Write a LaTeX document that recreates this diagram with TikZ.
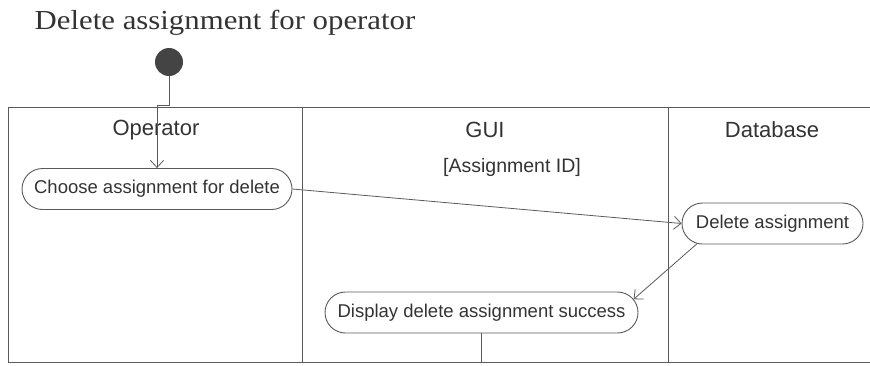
\documentclass[tikz,border=0pt]{standalone}
\usepackage{fontspec}
\setmainfont{Liberation Serif}
\newfontfamily\arialish{Liberation Sans}
\usetikzlibrary{shapes.misc,arrows.meta,calc}
\definecolor{linec}{HTML}{5A5A5A}
\definecolor{textc}{HTML}{333333}
\definecolor{dotc}{HTML}{444444}
\tikzset{
  lane/.style={draw=linec, line width=0.9pt},
  laneHead/.style={font=\arialish\fontsize{22}{24}\selectfont, text=textc, inner sep=0pt},
  guardText/.style={font=\arialish\fontsize{19.5}{22}\selectfont, text=textc, inner sep=0pt},
  actbox/.style={rounded rectangle, draw=linec, line width=0.9pt, minimum height=41pt, inner xsep=0pt,
    font=\arialish\fontsize{18.5}{20}\selectfont, text=textc},
  flow/.style={draw=linec, line width=0.8pt, -{Straight Barb[length=7pt,width=13pt]}},
  plainflow/.style={draw=linec, line width=0.8pt},
  startdot/.style={circle, fill=dotc, minimum size=28pt, inner sep=0pt},
  titletext/.style={font=\fontsize{27.5}{30}\selectfont, text=textc, inner sep=0pt}
}
\begin{document}
\begin{tikzpicture}[x=1pt,y=-1pt]
\useasboundingbox (0,0) rectangle (870,365);
% title
\node[titletext] (title) at (225,23) {\scalebox{1.12}[1]{Delete assignment for operator}};
% start
\node[startdot] (init) at (169,62) {};
% swimlanes
\coordinate (tl) at (8,107);
\coordinate (tr) at (870,107);
\coordinate (bl) at (8,362);
\coordinate (br) at (870,362);
\coordinate (d1t) at (302,107);
\coordinate (d1b) at (302,362);
\coordinate (d2t) at (668,107);
\coordinate (d2b) at (668,362);
\draw[lane] (tr) -- (tl) -- (bl) -- (br);
\draw[lane] (d1t) -- (d1b);
\draw[lane] (d2t) -- (d2b);
% headers
\node[laneHead] (hop) at (156,130) {Operator};
\node[laneHead] (hgui) at (485,130) {GUI};
\node[laneHead] (hdb) at (772,130) {Database};
\node[guardText] (guard) at (512,167) {[Assignment ID]};
% activities
\node[actbox, minimum width=270pt] (choose) at (157,189) {Choose assignment for delete};
\node[actbox, minimum width=181pt] (del) at (772.5,223.5) {Delete assignment};
\node[actbox, minimum width=313pt] (disp) at (481.5,312.5) {Display delete assignment success};
% flows
\coordinate (bend) at (169,105);
\draw[flow] (init.south) -- (bend) -| (choose.north);
\draw[flow] (choose.east) -- (del.west);
\draw[flow] (del.195) -- (disp.5);
\coordinate (endpt) at (481.5,362);
\draw[plainflow] (disp.south) -- (endpt);
\end{tikzpicture}
\end{document}
